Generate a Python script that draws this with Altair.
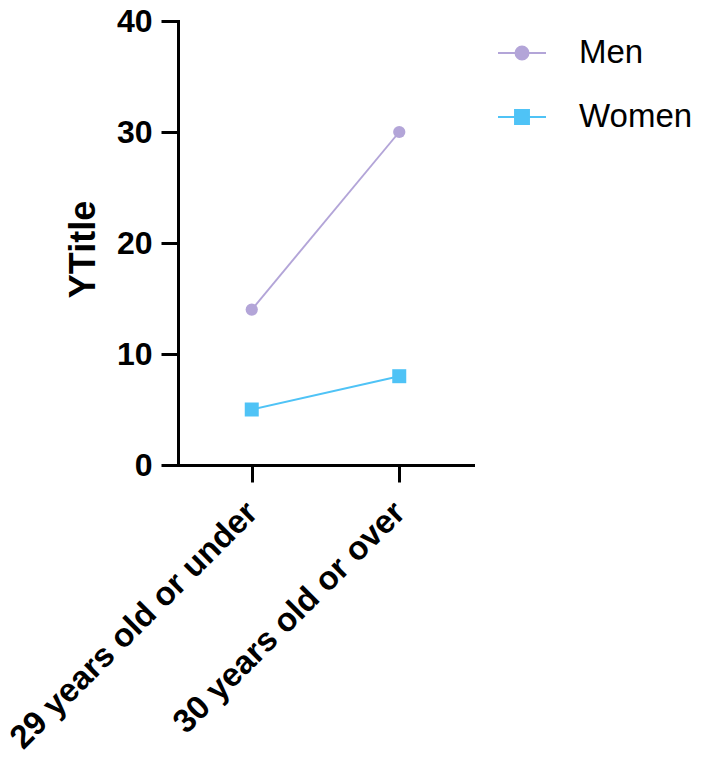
import altair as alt
import pandas as pd

categories = ["29 years old or under", "30 years old or over"]
series_names = ["Men", "Women"]
men_values = [14, 30]
women_values = [5, 8]
series_colors = ["#b3a5d8", "#4fc3f6"]
y_ticks = [0, 10, 20, 30, 40]
y_title = "YTitle"

# legend symbols: a line with the marker in the middle (unit box -1..1)
legend_paths = [
    "M-1,0H1M0.27,0A0.27,0.27,0,1,1,-0.27,0A0.27,0.27,0,1,1,0.27,0Z",
    "M-1,0H1M-0.29,-0.29H0.29V0.29H-0.29Z",
]

rows = []
for cat, v in zip(categories, men_values):
    rows.append({"group": cat, "series": "Men", "value": v})
for cat, v in zip(categories, women_values):
    rows.append({"group": cat, "series": "Women", "value": v})
df = pd.DataFrame(rows)

FONT = "Liberation Sans, Arial, Helvetica, sans-serif"

x_enc = alt.X(
    "group:N",
    sort=categories,
    scale=alt.Scale(type="point", padding=0.5),
    axis=alt.Axis(
        title=None, labelAngle=-45, labelAlign="right", labelBaseline="middle",
        labelFontSize=33, labelFontWeight="bold", labelColor="black", labelFont=FONT,
        labelPadding=25, labelLimit=0, tickSize=17, tickWidth=3, tickColor="black",
        domainWidth=3, domainColor="black", domainCap="square", grid=False,
    ),
)
y_enc = alt.Y(
    "value:Q",
    scale=alt.Scale(domain=[0, 40], nice=False),
    axis=alt.Axis(
        title=y_title, values=y_ticks, labelFontSize=32, labelFontWeight="bold",
        labelColor="black", labelFont=FONT, labelPadding=9, tickSize=17, tickWidth=3,
        tickColor="black", domainWidth=3, domainColor="black", domainCap="square",
        titleFontSize=36, titleFontWeight="bold", titleFont=FONT, titleColor="black",
        titlePadding=14, titleY=228, grid=False,
    ),
)
color_enc = alt.Color("series:N", scale=alt.Scale(domain=series_names, range=series_colors), legend=None)

base = alt.Chart(df)

lines = base.mark_line(strokeWidth=1.9).encode(x=x_enc, y=y_enc, color=color_enc, detail="series:N")

men_pts = base.transform_filter(alt.datum.series == "Men").mark_point(
    filled=True, shape="circle", size=150, opacity=1
).encode(x=x_enc, y=y_enc, color=color_enc)

women_pts = base.transform_filter(alt.datum.series == "Women").mark_point(
    filled=True, shape="square", size=196, opacity=1
).encode(x=x_enc, y=y_enc, color=color_enc)

legend_def = alt.Legend(
    title=None,
    orient="none",
    legendX=319,
    legendY=7,
    padding=0,
    symbolSize=2304,
    symbolStrokeWidth=2,
    symbolOpacity=1,
    labelFontSize=33,
    labelFont=FONT,
    labelColor="black",
    labelOffset=32,
    rowPadding=22,
)

# invisible layer that only carries the legend (data-driven domain so it is not
# merged with the hidden colour legend)
legend_layer = base.mark_point(opacity=0).encode(
    x=x_enc,
    y=y_enc,
    fill=alt.Fill("series:N", scale=alt.Scale(range=series_colors), legend=legend_def),
    stroke=alt.Stroke("series:N", scale=alt.Scale(range=series_colors), legend=legend_def),
    shape=alt.Shape("series:N", scale=alt.Scale(range=legend_paths), legend=legend_def),
)

chart = (
    alt.layer(lines, men_pts, women_pts, legend_layer)
    .properties(
        width=295,
        height=444,
        autosize=alt.AutoSizeParams(type="none"),
        padding={"left": 170, "top": 13, "right": 227, "bottom": 294},
    )
    .configure_view(stroke=None)
)

chart.save("out.html", embed_options={"renderer": "svg", "actions": False})
